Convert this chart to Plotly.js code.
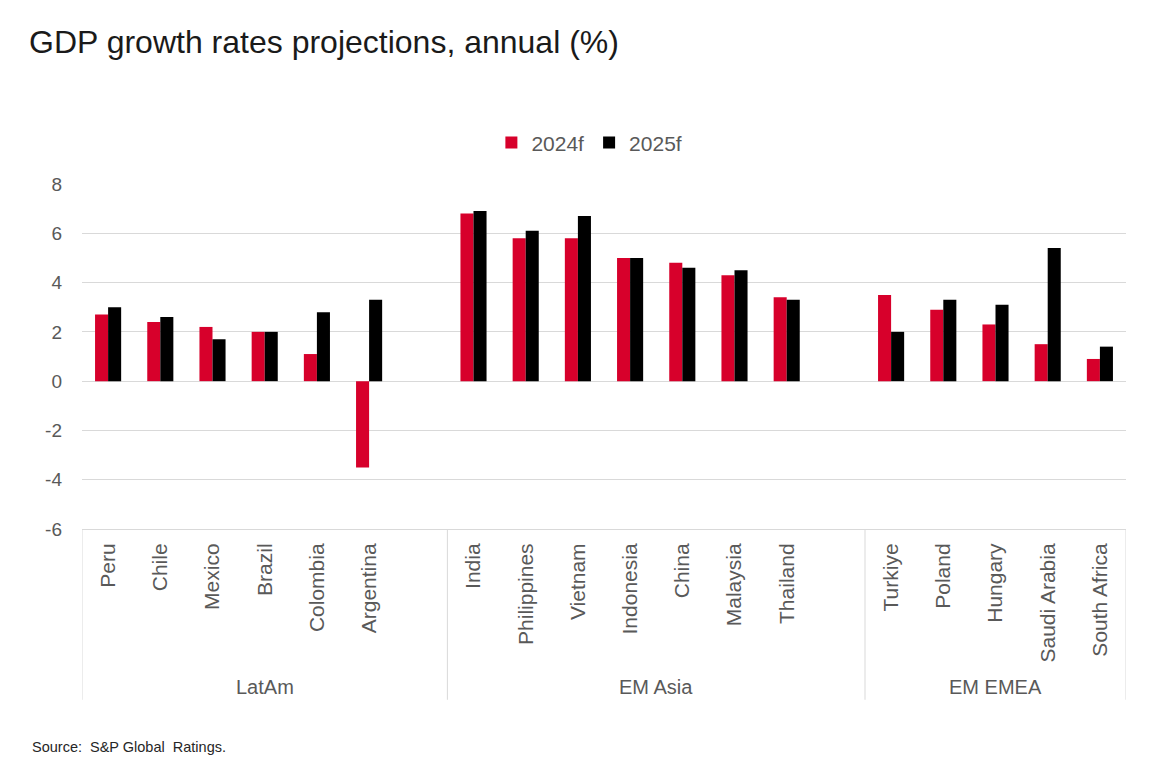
<!DOCTYPE html>
<html>
<head>
<meta charset="utf-8">
<script src="https://cdn.plot.ly/plotly-3.0.1.min.js"></script>
<style>
  html, body { margin: 0; padding: 0; background: #ffffff; }
  #chart { width: 1156px; height: 778px; }
</style>
</head>
<body>
<div id="chart"></div>
<script>
// ---- Data ----
const groupNames = ["LatAm", "EM Asia", "EM EMEA"];

const latamCountries = ["Peru", "Chile", "Mexico", "Brazil", "Colombia", "Argentina"];
const latam2024 = [2.7, 2.4, 2.2, 2.0, 1.1, -3.5];
const latam2025 = [3.0, 2.6, 1.7, 2.0, 2.8, 3.3];

const asiaCountries = ["India", "Philippines", "Vietnam", "Indonesia", "China", "Malaysia", "Thailand"];
const asia2024 = [6.8, 5.8, 5.8, 5.0, 4.8, 4.3, 3.4];
const asia2025 = [6.9, 6.1, 6.7, 5.0, 4.6, 4.5, 3.3];

const emeaCountries = ["Turkiye", "Poland", "Hungary", "Saudi Arabia", "South Africa"];
const emea2024 = [3.5, 2.9, 2.3, 1.5, 0.9];
const emea2025 = [2.0, 3.3, 3.1, 5.4, 1.4];

const seriesNames = ["2024f", "2025f"];
const yTicks = [-6, -4, -2, 0, 2, 4, 6, 8];

// ---- Build ----
const RED = "#d7002b";
const BLACK = "#000000";
const GRAY = "#595959";
const FONT = "Liberation Sans, Arial, sans-serif";

// category order with one empty slot after the first two groups (as in the source)
const blankA = " ", blankB = "  ";
const categoryOrder = [].concat(latamCountries, [blankA], asiaCountries, [blankB], emeaCountries);
const allCountries = [].concat(latamCountries, asiaCountries, emeaCountries);
const all2024 = [].concat(latam2024, asia2024, emea2024);
const all2025 = [].concat(latam2025, asia2025, emea2025);

const traces = [
  { type: "bar", name: seriesNames[0], x: allCountries, y: all2024, marker: { color: RED }, hoverinfo: "x+y+name" },
  { type: "bar", name: seriesNames[1], x: allCountries, y: all2025, marker: { color: BLACK }, hoverinfo: "x+y+name" }
];

// group boundaries (in category index units)
const groupSizes = [latamCountries.length + 1, asiaCountries.length + 1, emeaCountries.length];
const bounds = [-0.5];
groupSizes.forEach(s => bounds.push(bounds[bounds.length - 1] + s));

const divBottom = -0.495;
const shapes = bounds.map(b => ({
  type: "line", xref: "x", yref: "paper", x0: b, x1: b, y0: 0, y1: divBottom,
  line: { color: "#d9d9d9", width: 1 }
}));

const annotations = groupNames.map((g, i) => ({
  xref: "x", yref: "paper",
  x: (bounds[i] + bounds[i + 1]) / 2,
  y: -0.458, text: g, showarrow: false,
  font: { family: FONT, size: 20, color: GRAY }, yanchor: "middle", xanchor: "center"
}));
annotations.push({
  xref: "paper", yref: "paper", x: -0.0498, y: -0.633, xanchor: "left", yanchor: "middle",
  text: "Source:  S&P Global  Ratings.", showarrow: false,
  font: { family: FONT, size: 14.5, color: "#262626" }
});

const layout = {
  width: 1156, height: 778,
  paper_bgcolor: "#ffffff", plot_bgcolor: "#ffffff",
  margin: { l: 82, r: 30, t: 184, b: 249, pad: 0 },
  title: {
    text: "GDP growth rates projections, annual (%)",
    x: 29 / 1156, xanchor: "left", xref: "container",
    y: 1 - 42 / 778, yanchor: "middle", yref: "container",
    font: { family: FONT, size: 32, color: "#1a1a1a" }
  },
  barmode: "group", bargap: 0.5, bargroupgap: 0,
  showlegend: true,
  legend: {
    orientation: "h", x: 0.486, xanchor: "center", y: 1.119, yanchor: "middle",
    font: { family: FONT, size: 21, color: GRAY }, itemwidth: 30, traceorder: "normal"
  },
  xaxis: {
    type: "category", categoryorder: "array", categoryarray: categoryOrder,
    tickangle: -90, ticks: "", showgrid: false, zeroline: false,
    showline: true, linecolor: "#d9d9d9", linewidth: 1,
    tickfont: { family: FONT, size: 21, color: GRAY },
    ticklabelstandoff: 5, range: [-0.5, categoryOrder.length - 0.5]
  },
  yaxis: {
    range: [-6, 8], tickvals: yTicks, ticktext: yTicks.map(String),
    showgrid: true, gridcolor: "#d9d9d9", gridwidth: 1,
    zeroline: true, zerolinecolor: "#d9d9d9", zerolinewidth: 1,
    showline: false, ticks: "",
    tickfont: { family: FONT, size: 19, color: GRAY },
    ticklabelstandoff: 19
  },
  shapes: shapes,
  annotations: annotations,
  font: { family: FONT }
};

Plotly.newPlot("chart", traces, layout, { displayModeBar: false, staticPlot: true });
</script>
</body>
</html>
